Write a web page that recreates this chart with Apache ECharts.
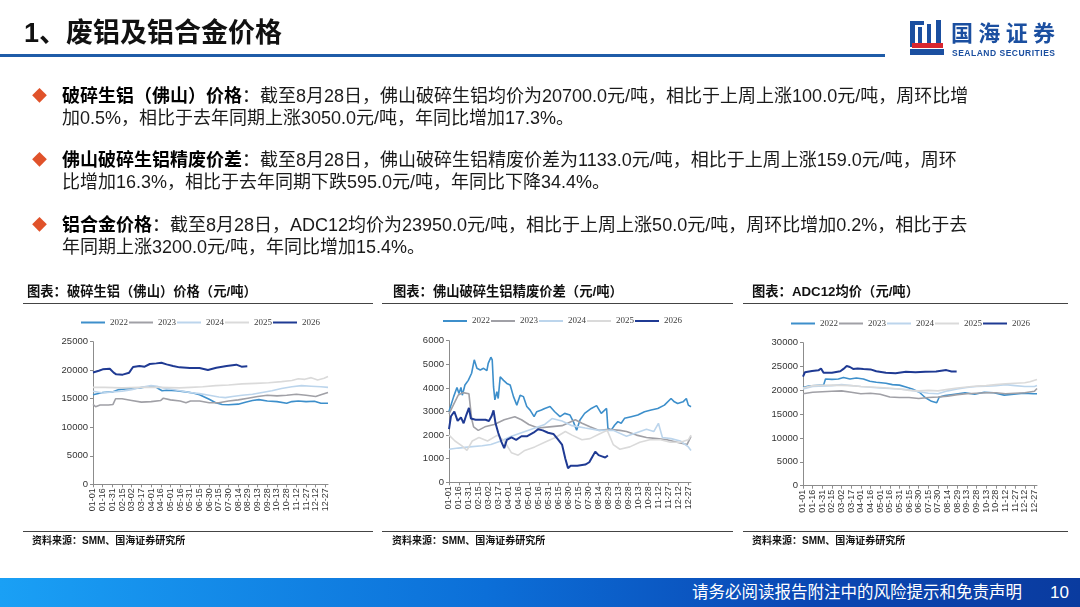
<!DOCTYPE html>
<html><head><meta charset="utf-8">
<script src="https://cdn.jsdelivr.net/npm/echarts@6/dist/echarts.min.js"></script>
<style>
html,body{margin:0;padding:0;background:#fff;}
body{width:1080px;height:607px;overflow:hidden;position:relative;font-family:"Liberation Sans","Noto Sans CJK SC",sans-serif;color:#1a1a1a;}
.abs{position:absolute;white-space:nowrap;}
#chart{position:absolute;left:0;top:0;width:1080px;height:607px;}
.title{left:24px;top:13px;font-size:27px;line-height:40px;font-weight:bold;color:#111;}
.hline{left:0;top:54px;width:885px;height:3px;background:#1f5ca8;}
.para{left:32px;font-size:18px;line-height:22.5px;}
.para .dia{position:absolute;left:0;top:0;color:#e0522a;font-size:15px;line-height:22.5px;}
.para .txt{position:absolute;left:30px;top:0;}
.para b{color:#000;}
.ctitle{font-size:13.3px;font-weight:bold;line-height:18px;color:#111;}
.cline{height:1px;background:#444;}
.src{font-size:10px;font-weight:bold;line-height:14px;color:#111;}
.footer{left:0;top:578px;width:1080px;height:29px;background:linear-gradient(90deg,#1aa0f5 0%,#0c6fd8 45%,#0a47b3 75%,#0a3b9f 100%);}
.ftxt{color:#fff;font-size:16.5px;line-height:29px;top:578px;}
</style></head>
<body>
<div id="chart"></div>
<div class="abs title">1、废铝及铝合金价格</div>
<div class="abs hline"></div>
<svg class="abs" style="left:905px;top:16px" width="160" height="45">
  <rect x="5" y="5" width="14" height="4" fill="#1b4fa0"/>
  <rect x="5" y="5" width="5" height="26" fill="#1b4fa0"/>
  <rect x="13" y="11" width="4" height="19" fill="#1b4fa0"/>
  <rect x="22" y="8" width="4" height="20" fill="#1b4fa0"/>
  <rect x="31" y="4" width="5" height="24" fill="#1b4fa0"/>
  <rect x="7" y="27" width="31" height="5" fill="#d8262f"/>
  <path d="M5 33 L39 33 L39 39 L5 39 Z" fill="#1b4fa0"/>
  <text x="46" y="25" font-size="22" font-weight="bold" fill="#1b4fa0" textLength="104" font-family="Noto Sans CJK SC">国海证券</text>
  <text x="47" y="40" font-size="8.5" font-weight="bold" fill="#1b4fa0" textLength="103" font-family="Liberation Sans">SEALAND SECURITIES</text>
</svg>

<div class="abs para" style="top:84.75px">
  <span class="dia">◆</span>
  <div class="txt"><b>破碎生铝（佛山）价格</b>：截至8月28日，佛山破碎生铝均价为20700.0元/吨，相比于上周上涨100.0元/吨，周环比增<br>加0.5%，相比于去年同期上涨3050.0元/吨，年同比增加17.3%。</div>
</div>
<div class="abs para" style="top:148.75px">
  <span class="dia">◆</span>
  <div class="txt"><b>佛山破碎生铝精废价差</b>：截至8月28日，佛山破碎生铝精废价差为1133.0元/吨，相比于上周上涨159.0元/吨，周环<br>比增加16.3%，相比于去年同期下跌595.0元/吨，年同比下降34.4%。</div>
</div>
<div class="abs para" style="top:213.75px">
  <span class="dia">◆</span>
  <div class="txt"><b>铝合金价格</b>：截至8月28日，ADC12均价为23950.0元/吨，相比于上周上涨50.0元/吨，周环比增加0.2%，相比于去<br>年同期上涨3200.0元/吨，年同比增加15.4%。</div>
</div>

<div class="abs ctitle" style="left:27px;top:283px">图表：破碎生铝（佛山）价格（元/吨）</div>
<div class="abs ctitle" style="left:393px;top:283px">图表：佛山破碎生铝精废价差（元/吨）</div>
<div class="abs ctitle" style="left:752px;top:283px">图表：ADC12均价（元/吨）</div>
<div class="abs cline" style="left:23px;top:303px;width:350px"></div>
<div class="abs cline" style="left:382px;top:303px;width:351px"></div>
<div class="abs cline" style="left:743px;top:303px;width:325px"></div>
<div class="abs cline" style="left:23px;top:531px;width:350px"></div>
<div class="abs cline" style="left:382px;top:531px;width:351px"></div>
<div class="abs cline" style="left:743px;top:531px;width:325px"></div>
<div class="abs src" style="left:32px;top:534px">资料来源：SMM、国海证券研究所</div>
<div class="abs src" style="left:392px;top:534px">资料来源：SMM、国海证券研究所</div>
<div class="abs src" style="left:752px;top:534px">资料来源：SMM、国海证券研究所</div>

<div class="abs footer"></div>
<div class="abs ftxt" style="left:692px">请务必阅读报告附注中的风险提示和免责声明</div>
<div class="abs ftxt" style="left:1050px;font-size:17px">10</div>

<script>
// ---------- categories ----------
const yearNames = ['2022','2023','2024','2025','2026'];
const monthLengths = [31,28,31,30,31,30,31,31,30,31,30,31];

// ---------- 破碎生铝（佛山）价格 ----------
const scrap2022 = [['01-01',15700],['01-16',16100],['01-31',16200],['02-10',16600],['02-20',16700],['03-05',16800],['03-15',16900],['03-25',17100],['04-08',17100],['04-12',16800],['04-18',16400],['04-25',16500],['05-10',16400],['05-25',16200],['06-05',16000],['06-15',15700],['06-30',14900],['07-10',14300],['07-20',14000],['07-30',13950],['08-14',14050],['08-25',14400],['09-05',14700],['09-15',14850],['09-28',14600],['10-13',14500],['10-28',14200],['11-05',14500],['11-15',14600],['11-27',14500],['12-10',14550],['12-20',14200],['12-31',14200]];
const scrap2023 = [['01-01',14000],['01-05',13600],['01-12',13900],['01-25',13900],['02-01',14000],['02-05',15000],['02-15',15000],['03-02',14700],['03-17',14400],['04-01',14500],['04-16',14700],['04-20',15100],['05-01',14800],['05-16',14600],['05-25',14300],['06-01',14600],['06-15',14600],['06-30',14300],['07-15',14300],['07-30',14600],['08-14',14800],['08-29',15100],['09-13',15400],['09-28',15600],['10-13',15500],['10-28',15600],['11-12',15800],['11-27',15600],['12-12',15400],['12-20',15700],['12-31',16100]];
const scrap2024 = [['01-01',16300],['01-16',16000],['01-31',16200],['02-15',16300],['03-02',16600],['03-17',17000],['04-01',17300],['04-10',17200],['04-20',16900],['05-01',16700],['05-16',16400],['05-31',16100],['06-15',15900],['06-30',15600],['07-15',15300],['07-25',15200],['08-05',15400],['08-20',15600],['09-05',15800],['09-20',16100],['10-05',16400],['10-20',16800],['11-05',17100],['11-20',17300],['12-05',17200],['12-20',17100],['12-31',17000]];
const scrap2025 = [['01-01',17000],['01-20',17000],['02-15',16900],['03-15',17000],['04-15',17000],['05-15',16900],['06-01',17000],['06-20',17100],['07-10',17300],['07-30',17400],['08-20',17600],['09-10',17700],['09-30',17800],['10-20',18000],['11-05',18200],['11-15',18500],['11-25',18400],['12-05',18700],['12-15',18300],['12-25',18600],['12-31',18900]];
const scrap2026 = [['01-01',19600],['01-10',19900],['01-16',20150],['01-27',20270],['01-29',20560],['02-02',19570],['02-06',19280],['02-16',19220],['02-26',19570],['03-04',20560],['03-14',20740],['03-22',20620],['03-30',21090],['04-09',21200],['04-17',21320],['04-25',21030],['05-05',20740],['05-15',20500],['05-31',20390],['06-15',20390],['06-28',20030],['07-11',20440],['07-27',20740],['08-11',20970],['08-19',20620],['08-28',20700]];

// ---------- 佛山破碎生铝精废价差 ----------
const spread2022 = [['01-01',3000],['01-04',3060],['01-08',3630],['01-13',4020],['01-16',3760],['01-19',4020],['01-21',3690],['01-25',4120],['01-30',4320],['02-04',4620],['02-08',5190],['02-12',4830],['02-17',4760],['02-22',4830],['02-27',4730],['03-01',5040],['03-05',5300],['03-07',5190],['03-09',4040],['03-11',3490],['03-14',3840],['03-16',3550],['03-19',4470],['03-24',4320],['03-29',4190],['04-03',4120],['04-08',3630],['04-13',3270],['04-18',3690],['04-23',3630],['04-28',3210],['05-03',3060],['05-09',2780],['05-13',2990],['05-20',3060],['05-25',3130],['06-02',3210],['06-09',2990],['06-17',2780],['06-24',2920],['07-02',2850],['07-07',2570],['07-12',2210],['07-17',2640],['07-24',2920],['08-03',3130],['08-11',3250],['08-18',2920],['08-26',3130],['08-28',2290],['09-02',2210],['09-07',2420],['09-12',2570],['09-17',2500],['09-22',2710],['10-02',2780],['10-12',2850],['10-22',2990],['11-01',3060],['11-11',3130],['11-21',3270],['12-01',3550],['12-06',3410],['12-11',3340],['12-19',3410],['12-24',3550],['12-27',3270],['12-31',3200]];
const spread2023 = [['01-01',2900],['01-08',3300],['01-15',3700],['01-22',3800],['01-31',3750],['02-04',2700],['02-07',2350],['02-14',2200],['02-24',2350],['03-10',2450],['03-25',2650],['04-10',2780],['04-20',2650],['05-01',2450],['05-15',2300],['06-01',2350],['06-20',2400],['07-10',2650],['07-20',2500],['08-01',2350],['08-15',2200],['08-30',2250],['09-15',2200],['09-25',2150],['10-10',2000],['10-25',1900],['11-10',1850],['11-25',1800],['12-10',1700],['12-25',1600],['12-31',1950]];
const spread2024 = [['01-01',1400],['01-15',1450],['02-01',1500],['02-20',1550],['03-05',1600],['03-20',1750],['04-05',1950],['04-20',2100],['05-05',2250],['05-25',2450],['06-05',2700],['06-20',2600],['07-05',2400],['07-25',2300],['08-15',2200],['09-05',2200],['09-25',1950],['10-10',2100],['10-25',2250],['11-05',2150],['11-12',2500],['11-18',1900],['12-01',1850],['12-15',1750],['12-27',1500],['12-31',1350]];
const spread2025 = [['01-01',2000],['01-10',1750],['01-20',1550],['01-28',1350],['02-05',1750],['02-15',1900],['02-28',1750],['03-15',2000],['03-25',1750],['04-05',1250],['04-15',1150],['04-25',1350],['05-10',1500],['05-25',1700],['06-10',1900],['06-25',2150],['07-05',2000],['07-20',1800],['08-01',1850],['08-15',2050],['08-27',2200],['09-05',1600],['09-15',1400],['09-30',1500],['10-15',1700],['10-30',1800],['11-15',1800],['11-30',1700],['12-15',1700],['12-27',1800],['12-31',2000]];
const spread2026 = [['01-01',2250],['01-04',2800],['01-09',3000],['01-14',2600],['01-19',2750],['01-23',2500],['01-27',2850],['01-31',3150],['02-03',2700],['02-10',2650],['02-18',2650],['02-25',2650],['03-02',2600],['03-06',2800],['03-09',3050],['03-12',2500],['03-16',2100],['03-21',1700],['03-25',1450],['03-29',1800],['04-05',1900],['04-12',1800],['04-20',1950],['04-28',1950],['05-08',2100],['05-15',2250],['05-22',2200],['05-30',2100],['06-07',2050],['06-13',1850],['06-20',1600],['06-25',1000],['06-29',600],['07-03',700],['07-13',700],['07-25',750],['07-31',850],['08-04',1050],['08-09',1300],['08-14',1150],['08-19',1100],['08-24',1050],['08-28',1133]];

// ---------- ADC12均价 ----------
const adc2022 = [['01-01',20600],['01-10',20900],['01-20',21000],['02-02',21100],['02-05',22400],['02-15',22300],['02-25',22400],['03-05',22700],['03-08',23000],['03-15',22400],['03-25',22600],['04-05',22400],['04-15',21900],['04-25',21700],['05-10',21500],['05-20',21200],['05-31',21100],['06-10',20700],['06-20',20300],['07-01',19600],['07-10',18500],['07-20',17700],['07-28',17400],['08-01',18600],['08-10',18900],['08-25',19200],['09-10',19500],['09-25',19200],['10-10',19600],['10-25',19500],['11-10',19000],['11-25',19200],['12-10',19400],['12-25',19300],['12-31',19300]];
const adc2023 = [['01-01',19300],['01-16',19600],['02-15',19800],['03-02',19900],['03-17',19600],['04-01',19300],['04-16',19400],['05-01',19200],['05-16',18600],['05-31',18500],['06-15',18500],['06-30',18300],['07-15',18500],['07-30',18600],['08-14',18800],['08-29',19100],['09-13',19300],['09-28',19400],['10-13',19500],['10-28',19500],['11-12',19300],['11-27',19400],['12-12',19500],['12-27',19800],['12-31',20400]];
const adc2024 = [['01-01',20300],['01-16',20800],['02-15',21000],['03-02',21200],['04-01',20800],['05-01',20500],['05-31',20300],['06-15',20100],['06-30',19700],['07-15',19400],['07-30',19300],['08-14',19900],['08-29',20300],['09-13',20600],['09-28',20800],['10-13',20900],['10-28',21000],['11-12',21200],['11-27',21000],['12-12',20800],['12-27',20800],['12-31',21000]];
const adc2025 = [['01-01',20500],['01-16',21000],['02-15',21100],['03-17',21000],['04-01',20800],['05-01',20600],['05-31',20300],['06-15',20000],['06-30',19900],['07-15',20000],['07-30',19900],['08-14',20200],['08-29',20500],['09-13',20700],['09-28',20900],['10-13',21000],['10-28',21200],['11-12',21400],['11-27',21500],['12-12',21600],['12-20',21800],['12-31',22300]];
const adc2026 = [['01-01',22900],['01-04',23800],['01-15',24050],['01-25',24200],['01-29',24600],['02-02',23700],['02-15',23700],['02-28',24000],['03-05',24500],['03-10',25100],['03-15',24900],['03-20',24500],['03-27',24600],['04-05',24500],['04-16',24400],['04-25',24000],['05-10',23700],['05-25',23600],['06-10',23900],['06-25',23800],['07-10',23900],['07-27',23950],['08-12',24250],['08-20',23950],['08-28',23950]];

// axis ranges
const yMax = [25000, 6000, 30000];
const yStep = [5000, 1000, 5000];

// ---------- build ----------
const days = [];
monthLengths.forEach((n, m) => { for (let d = 1; d <= n; d++) days.push(String(m+1).padStart(2,'0') + '-' + String(d).padStart(2,'0')); });
const dayIndex = {};
days.forEach((d, i) => dayIndex[d] = i);
const toXY = arr => arr.map(([d, v]) => [dayIndex[d], v]);

const colors = ['#3d8fcb', '#a0a0a6', '#bcd5ec', '#dadada', '#1f3a93'];
const widths = [1.6, 1.6, 1.6, 1.6, 2];
const chartSets = [
  [scrap2022, scrap2023, scrap2024, scrap2025, scrap2026],
  [spread2022, spread2023, spread2024, spread2025, spread2026],
  [adc2022, adc2023, adc2024, adc2025, adc2026]
];
const grids = [
  {left: 93, top: 341.7, width: 235, height: 142.6},
  {left: 449, top: 340.7, width: 242, height: 141.6},
  {left: 803, top: 342.7, width: 234, height: 143}
];
const legendPos = [{left: 81, top: 318}, {left: 443, top: 316.5}, {left: 791, top: 319}];
const axisColor = '#8c8c8c';

const option = {
  animation: false,
  grid: grids.map(g => Object.assign({outerBoundsMode: 'none', containLabel: false}, g)),
  legend: legendPos.map(p => ({
    left: p.left, top: p.top, orient: 'horizontal', icon: 'rect', itemWidth: 24, itemHeight: 2, itemGap: 1, padding: 0,
    textStyle: {fontFamily: 'Liberation Serif', fontSize: 9, color: '#404040'},
    data: yearNames
  })),
  xAxis: grids.map((g, i) => ({
    type: 'category', gridIndex: i, data: days, boundaryGap: false,
    axisLine: {lineStyle: {color: axisColor, width: 1}},
    axisTick: {show: true, interval: 14, length: 3, lineStyle: {color: axisColor}},
    axisLabel: {interval: 14, rotate: 90, fontSize: 9, color: '#333', fontFamily: 'Liberation Sans', margin: 4, hideOverlap: false},
    splitLine: {show: false}
  })),
  yAxis: grids.map((g, i) => ({
    type: 'value', gridIndex: i, min: 0, max: yMax[i], interval: yStep[i],
    axisLine: {show: true, lineStyle: {color: axisColor, width: 1}},
    axisTick: {show: true, length: 3, lineStyle: {color: axisColor}},
    axisLabel: {fontSize: 9.5, color: '#333', fontFamily: 'Liberation Sans', margin: 5, formatter: v => String(v)},
    splitLine: {show: false}
  })),
  series: []
};
chartSets.forEach((set, gi) => {
  set.forEach((arr, k) => {
    option.series.push({
      name: yearNames[k], type: 'line', xAxisIndex: gi, yAxisIndex: gi,
      data: toXY(arr), symbol: 'none', showSymbol: false,
      lineStyle: {color: colors[k], width: widths[k]}, itemStyle: {color: colors[k]},
      z: 2 + k
    });
  });
});
const chart = echarts.init(document.getElementById('chart'), null, {renderer: 'canvas'});
chart.setOption(option);
</script>
</body></html>
